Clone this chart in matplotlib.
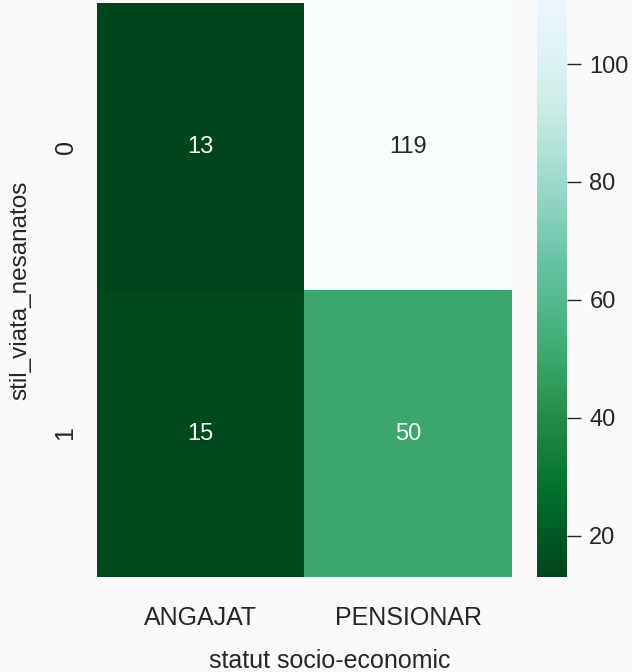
import numpy as np
import pandas as pd
import matplotlib
matplotlib.use("Agg")
import matplotlib.pyplot as plt
import seaborn as sns

# counts per lifestyle flag (rows) and socio-economic status (columns)
statut = ["ANGAJAT", "PENSIONAR"]
stil_viata = [0, 1]
angajat = [13, 15]
pensionar = [119, 50]

tabel = pd.DataFrame({statut[0]: angajat, statut[1]: pensionar}, index=stil_viata)
tabel.index.name = "stil_viata_nesanatos"
tabel.columns.name = "statut socio-economic"

plt.rcParams['font.family'] = ['Liberation Sans', 'DejaVu Sans']
plt.rcParams['text.color'] = '#262626'
plt.rcParams['axes.labelcolor'] = '#262626'
plt.rcParams['xtick.color'] = '#262626'
plt.rcParams['ytick.color'] = '#262626'

fig = plt.figure(figsize=(6.32, 6.72), dpi=100, facecolor='#fafafa')
ax = fig.add_axes([0.1535, 0.1414, 0.6566, 0.854])
cax = fig.add_axes([0.8497, 0.1414, 0.0475, 0.930])

sns.heatmap(tabel, annot=True, fmt="d", cmap="BuGn_r", ax=ax, cbar_ax=cax,
            annot_kws={"fontsize": 17})

ax.set_facecolor('#fafafa')
ax.tick_params(axis='x', length=0, pad=21, labelsize=18, labelrotation=0)
ax.tick_params(axis='y', length=0, pad=14, labelsize=18, labelrotation=90)
for lbl in ax.get_yticklabels():
    lbl.set_va('center')
ax.set_xlabel("statut socio-economic", fontsize=18)
ax.set_ylabel("stil_viata_nesanatos", fontsize=17.5, labelpad=16)
ax.xaxis.set_label_coords(0.561, -0.125)

# colourbar: plain ticks, no frame
cax.set_yticks([20, 40, 60, 80, 100])
cax.tick_params(length=10, width=1, pad=6, labelsize=17)
for s in cax.spines.values():
    s.set_visible(False)

fig.savefig("out.png", dpi=100, facecolor=fig.get_facecolor())
